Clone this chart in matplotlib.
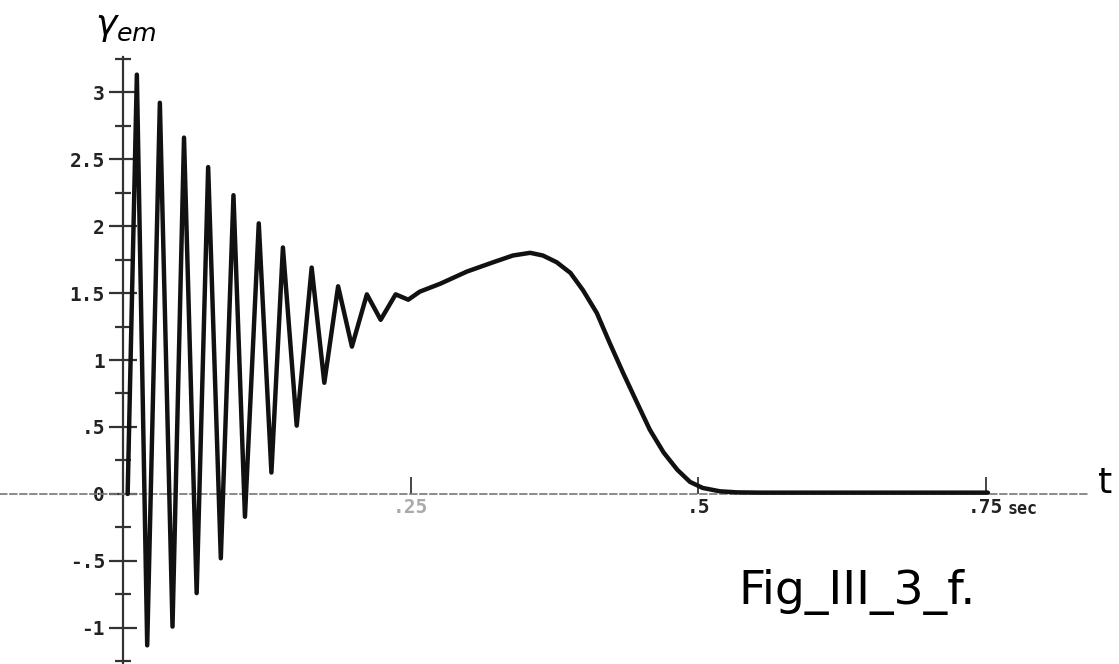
import matplotlib
matplotlib.use("Agg")
import matplotlib.pyplot as plt
from matplotlib.ticker import FixedLocator

# trace: time (s) and gamma_em
t_vals = [0.004, 0.012, 0.021, 0.032, 0.043, 0.053, 0.064, 0.074, 0.085, 0.096,
          0.106, 0.118, 0.129, 0.139, 0.151, 0.164, 0.175, 0.187, 0.199, 0.212,
          0.224, 0.237, 0.248, 0.258, 0.276, 0.299, 0.322, 0.339, 0.354, 0.365,
          0.377, 0.389, 0.400, 0.412, 0.423, 0.435, 0.447, 0.458, 0.470, 0.482,
          0.493, 0.504, 0.519, 0.534, 0.554, 0.752]
g_vals = [0.00, 3.13, -1.13, 2.92, -0.99, 2.66, -0.74, 2.44, -0.48, 2.23,
          -0.17, 2.02, 0.16, 1.84, 0.51, 1.69, 0.83, 1.55, 1.10, 1.49,
          1.30, 1.49, 1.45, 1.51, 1.57, 1.66, 1.73, 1.78, 1.80, 1.78,
          1.73, 1.65, 1.52, 1.35, 1.13, 0.90, 0.68, 0.48, 0.31, 0.18,
          0.09, 0.045, 0.02, 0.012, 0.01, 0.01]

y_ticks = [-1, -0.5, 0, 0.5, 1, 1.5, 2, 2.5, 3]
y_labels = ["-1", "-.5", "0", ".5", "1", "1.5", "2", "2.5", "3"]
y_minor = [-1.25, -0.75, -0.25, 0.25, 0.75, 1.25, 1.75, 2.25, 2.75, 3.25]
x_ticks = [0.25, 0.5, 0.75]
x_labels = [".25", ".5", ".75"]

fig = plt.figure(figsize=(11.19, 6.64), dpi=100)
ax = fig.add_axes([0, 0, 1, 1])
ax.set_xlim(-0.107, 0.866)
ax.set_ylim(-1.269, 3.687)

ax.plot(t_vals, g_vals, color="#111111", lw=3.2, solid_joinstyle="round",
        solid_capstyle="round", zorder=3)

# hand drawn axes through the origin
for s in ["top", "right"]:
    ax.spines[s].set_visible(False)
ax.spines["left"].set_position(("data", 0))
ax.spines["left"].set_bounds(-1.269, 3.26)
ax.spines["left"].set_color("#333333")
ax.spines["left"].set_linewidth(1.6)
ax.spines["bottom"].set_position(("data", 0))
ax.spines["bottom"].set_bounds(-0.107, 0.841)
ax.spines["bottom"].set_color("#777777")
ax.spines["bottom"].set_linewidth(1.2)
ax.spines["bottom"].set_linestyle((0, (4, 2)))

mono = {"family": "DejaVu Sans Mono", "weight": "bold", "size": 14}
ax.set_yticks(y_ticks, labels=y_labels, fontdict=mono)
ax.yaxis.set_minor_locator(FixedLocator(y_minor))
ax.tick_params(axis="y", which="major", direction="inout", length=20,
               width=1.6, color="#333333", pad=3, labelcolor="#222222")
ax.tick_params(axis="y", which="minor", direction="inout", length=11,
               width=1.6, color="#333333")

ax.set_xticks(x_ticks, labels=x_labels, fontdict=mono)
ax.tick_params(axis="x", which="major", direction="in", length=12,
               width=1.4, color="#444444", pad=3, labelcolor="#222222")
ax.xaxis.get_ticklabels()[0].set_color("#aaaaaa")
ax.annotate("sec", xy=(0.75, 0), xytext=(16, -4), textcoords="offset points",
            ha="left", va="top", family="DejaVu Sans Mono", weight="bold",
            size=12, color="#222222")

fig.text(0.085, 0.985, r"$\gamma_{em}$", fontsize=26, va="top", ha="left")
fig.text(0.981, 0.258, "t", fontsize=26, va="baseline", ha="left")
fig.text(0.66, 0.09, "Fig_III_3_f.", fontsize=34, va="baseline", ha="left")

fig.savefig("out.png", dpi=100, facecolor="white")
